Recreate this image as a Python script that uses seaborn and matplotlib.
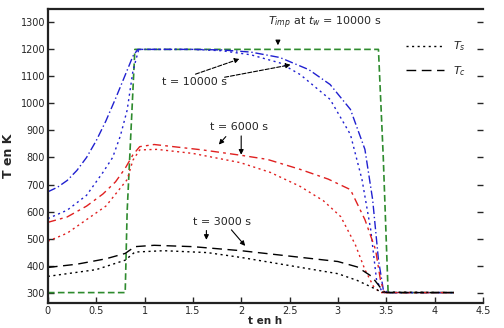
import matplotlib
matplotlib.use("Agg")
import matplotlib.pyplot as plt
import seaborn as sns
import pandas as pd
from matplotlib.lines import Line2D

# ---- data ----
imp_t = [0, 0.80, 0.82, 0.86, 0.90, 3.42, 3.47, 3.52, 4.2]
imp_T = [300, 300, 600, 900, 1200, 1200, 800, 300, 300]

blue_up_t = [0, 0.1, 0.2, 0.3, 0.4, 0.5, 0.6, 0.7, 0.8, 0.88, 0.93, 1.5, 1.8, 2.1, 2.4, 2.7, 2.92, 3.13, 3.28, 3.36, 3.42, 3.47, 3.52, 4.2]
blue_up_T = [673, 690, 715, 752, 800, 862, 935, 1018, 1105, 1175, 1200, 1200, 1198, 1190, 1170, 1125, 1070, 978, 830, 644, 422, 311, 300, 300]
blue_lo_t = [0, 0.2, 0.4, 0.57, 0.67, 0.75, 0.82, 0.88, 0.94, 1.5, 1.8, 2.1, 2.4, 2.61, 2.92, 3.13, 3.25, 3.34, 3.4, 3.46, 4.2]
blue_lo_T = [574, 605, 660, 745, 800, 880, 975, 1120, 1200, 1200, 1195, 1180, 1150, 1107, 1015, 885, 718, 533, 348, 300, 300]

red_up_t = [0, 0.2, 0.4, 0.57, 0.7, 0.8, 0.88, 0.95, 1.1, 1.6, 2.0, 2.27, 2.61, 2.9, 3.13, 3.28, 3.39, 3.44, 3.48, 4.2]
red_up_T = [560, 580, 620, 665, 710, 760, 810, 840, 848, 828, 808, 793, 756, 720, 681, 570, 459, 348, 300, 300]
red_lo_t = [0, 0.2, 0.36, 0.6, 0.82, 0.88, 0.95, 1.13, 1.5, 1.99, 2.3, 2.61, 2.85, 3.03, 3.18, 3.28, 3.37, 3.44, 4.2]
red_lo_T = [490, 520, 560, 620, 718, 790, 828, 830, 815, 781, 745, 693, 640, 581, 478, 385, 322, 300, 300]

blk_up_t = [0, 0.3, 0.6, 0.8, 0.9, 1.1, 1.5, 2.0, 2.5, 3.0, 3.2, 3.35, 3.47, 3.5, 4.2]
blk_up_T = [393, 405, 425, 445, 470, 475, 470, 455, 435, 415, 395, 360, 305, 300, 300]
blk_lo_t = [0, 0.5, 0.8, 0.9, 1.2, 1.65, 2.0, 2.5, 3.0, 3.2, 3.35, 3.45, 4.2]
blk_lo_T = [360, 385, 420, 450, 455, 448, 430, 400, 370, 345, 320, 302, 300]

x_ticks = [0, 0.5, 1, 1.5, 2, 2.5, 3, 3.5, 4, 4.5]
x_labels = ["0", "0.5", "1", "1.5", "2", "2.5", "3", "3.5", "4", "4.5"]
y_ticks = [300, 400, 500, 600, 700, 800, 900, 1000, 1100, 1200, 1300]

sns.set_style("white")
plt.rcParams['font.family'] = ['DejaVu Sans']

fig = plt.figure(figsize=(5.04, 3.28), dpi=100)
ax = fig.add_axes([0.095, 0.075, 0.863, 0.898])

GREEN = "#2e8b2e"
BLUE = "#2020d0"
RED = "#e02020"
BLACK = "#000000"

def draw(t, T, color, ls, lw=1.0):
    df = pd.DataFrame({"t": t, "T": T})
    sns.lineplot(data=df, x="t", y="T", color=color, linestyle=ls, linewidth=lw,
                 ax=ax, sort=False, estimator=None, legend=False)

draw(imp_t, imp_T, GREEN, (0, (4, 2)), 1.2)
draw(blue_up_t, blue_up_T, BLUE, (0, (6, 2, 1, 2)), 1.0)
draw(blue_lo_t, blue_lo_T, BLUE, (0, (1.5, 2.5)), 1.0)
draw(red_up_t, red_up_T, RED, (0, (6, 3, 2, 3)), 1.0)
draw(red_lo_t, red_lo_T, RED, (0, (1.5, 2.5)), 1.0)
draw(blk_up_t, blk_up_T, BLACK, (0, (7, 4)), 1.0)
draw(blk_lo_t, blk_lo_T, BLACK, (0, (1.5, 2.5)), 1.0)

ax.set_xlim(0, 4.5)
ax.set_ylim(260, 1350)
ax.set_xticks(x_ticks)
ax.set_xticklabels(x_labels)
ax.set_yticks(y_ticks)
ax.tick_params(direction="in", labelsize=7, length=4, width=1, pad=2,
               right=True, left=True, bottom=True, top=False)
for s in ["left", "bottom", "top"]:
    ax.spines[s].set_linewidth(1.6)
    ax.spines[s].set_color("#222222")
ax.spines["right"].set_visible(False)
ax.set_xlabel("t en h", fontsize=7.5, fontweight="bold", labelpad=0)
ax.set_ylabel("T en K", fontsize=9, fontweight="bold", labelpad=4)

handles = [Line2D([], [], color="black", linestyle=(0, (1.5, 2.5)), linewidth=1.0),
           Line2D([], [], color="black", linestyle=(0, (7, 4)), linewidth=1.0)]
ax.legend(handles, ["$T_s$", "$T_c$"], loc="upper right", bbox_to_anchor=(0.985, 0.93),
          frameon=False, fontsize=8, handlelength=3.5, labelspacing=1.0)

ap = dict(arrowstyle="-|>", color="black", lw=0.8, mutation_scale=7)
ax.text(2.28, 1300, "$T_{imp}$ at $t_w$ = 10000 s", fontsize=8, ha="left", va="center")
ax.annotate("", xy=(2.38, 1205), xytext=(2.38, 1240), arrowprops=ap)

ax.text(1.18, 1078, "t = 10000 s", fontsize=8, ha="left", va="center")
ax.annotate("", xy=(2.01, 1168), xytext=(1.5, 1105), arrowprops=dict(ap, linestyle="--"))
ax.annotate("", xy=(2.54, 1145), xytext=(1.8, 1095), arrowprops=dict(ap, linestyle="--"))

ax.text(1.68, 911, "t = 6000 s", fontsize=8, ha="left", va="center")
ax.annotate("", xy=(1.75, 840), xytext=(1.86, 885), arrowprops=ap)
ax.annotate("", xy=(2.0, 800), xytext=(2.0, 890), arrowprops=ap)

ax.text(1.5, 563, "t = 3000 s", fontsize=8, ha="left", va="center")
ax.annotate("", xy=(1.64, 485), xytext=(1.64, 540), arrowprops=ap)
ax.annotate("", xy=(2.06, 465), xytext=(1.88, 540), arrowprops=ap)

fig.savefig("out.png", dpi=100)
